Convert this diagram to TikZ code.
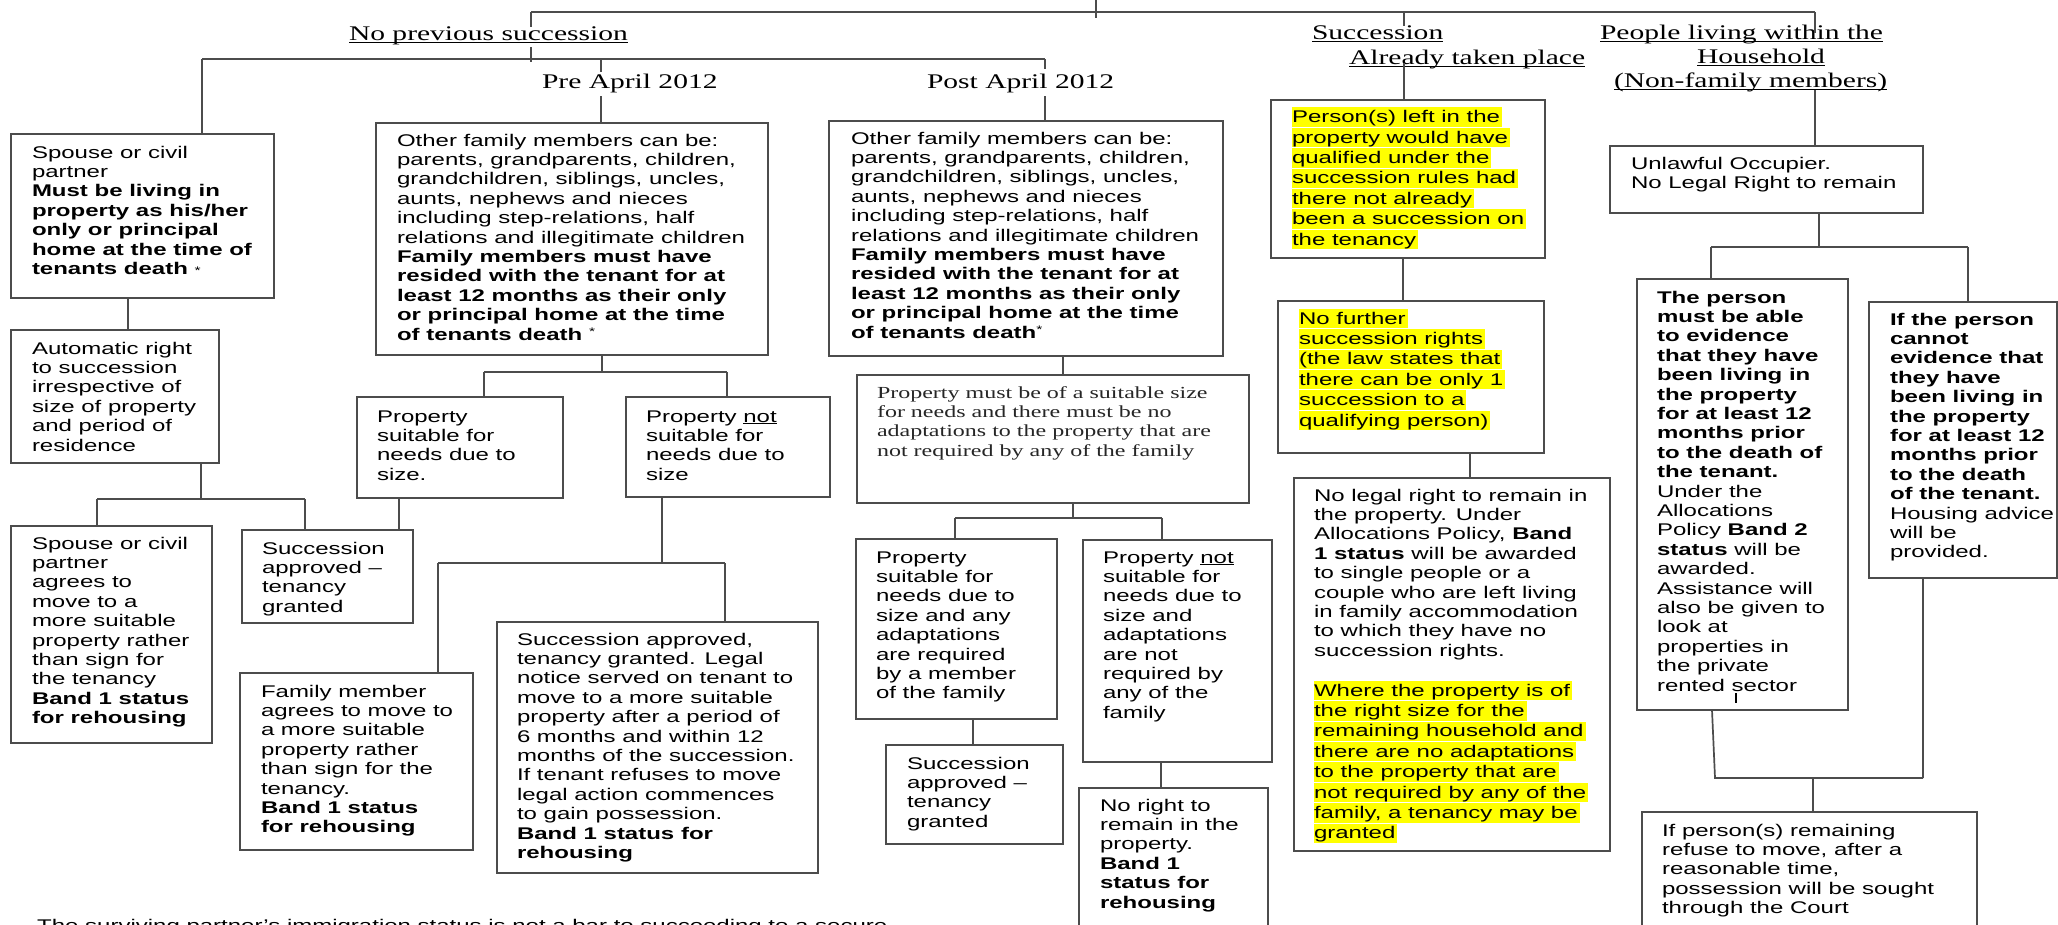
\documentclass[tikz,border=0pt]{standalone}
\usepackage{fontspec}
\setmainfont{Liberation Sans}[FakeStretch=1.42]
\newfontfamily\tnr{Liberation Serif}[FakeStretch=1.42]
\usetikzlibrary{calc}
\definecolor{lnc}{HTML}{4C4C4C}
\definecolor{hly}{HTML}{FFFF00}
\newcommand\hs{\vrule width 0pt height 15.3pt depth 4.1pt}
\newcommand\hlt[1]{{\setlength{\fboxsep}{0pt}\colorbox{hly}{\hs#1\kern2pt}}}
\newcommand\bb[1]{{\bfseries #1}}
\newsavebox\ulbox
\newcommand\myul[2][3pt]{\sbox\ulbox{#2}\rlap{\rule[-#1]{\wd\ulbox}{1.2pt}}\usebox\ulbox}
\newcommand\bodyfont{\fontsize{16.9pt}{19.4pt}\selectfont}
\newcommand\headfont{\tnr\fontsize{20.8pt}{24pt}\selectfont}
\newcommand\smast{{\mdseries\fontsize{11pt}{11pt}\selectfont *}}
\tikzset{
  conn/.style={draw=lnc, line width=1.7pt},
  boxst/.style={draw=lnc, line width=1.7pt, inner sep=0pt, outer sep=0pt, anchor=north west},
  txt/.style={inner sep=0pt, outer sep=0pt, anchor=north west, align=left, font=\bodyfont, text=black},
  head/.style={inner sep=0pt, outer sep=0pt, anchor=base west, font=\headfont, text=black},
}
\newcommand\bx[5]{\node[boxst, minimum width={#4-#2}, minimum height={#5-#3}] (#1) at (#2,#3) {};}
\begin{document}
\begin{tikzpicture}[x=1pt,y=-1pt]
\useasboundingbox (0,0) rectangle (2058,924);
\fill[white] (0,0) rectangle (2058,924);
\clip (0,0) rectangle (2058,924);

% ---------- headings ----------
\node[head] (hNPS) at (349,40) {\myul{No previous succession}};
\node[head] (hPre) at (542,88) {Pre April 2012};
\node[head] (hPost) at (927,88) {Post April 2012};
\node[head] (hSucc) at (1312,39) {\myul{Succession}};
\node[head] (hAlr) at (1349,64) {\myul{Already taken place}};
\node[head] (hP1) at (1600,39) {\myul{People living within the}};
\node[head] (hP2) at (1697,63) {\myul{Household}};
\node[head] (hP3) at (1614,87) {\myul{(Non-family members)}};

% ---------- boxes ----------
\bx{sp1}{11}{134}{274}{298}
\bx{auto}{11}{330}{219}{463}
\bx{preOF}{376}{123}{768}{355}
\bx{postOF}{829}{121}{1223}{356}
\bx{preS}{357}{397}{563}{498}
\bx{preNS}{626}{397}{830}{497}
\bx{sp2}{11}{526}{212}{743}
\bx{preSA}{242}{530}{413}{623}
\bx{fam}{240}{673}{473}{850}
\bx{legal}{497}{622}{818}{873}
\bx{must}{857}{375}{1249}{503}
\bx{postS}{856}{539}{1057}{719}
\bx{postSA}{886}{745}{1063}{844}
\bx{postNS}{1083}{540}{1272}{762}
\bx{noright}{1079}{788}{1268}{940}
\bx{pers}{1271}{100}{1545}{258}
\bx{nofur}{1278}{301}{1544}{453}
\bx{nolegal}{1294}{478}{1610}{851}
\bx{unl}{1610}{146}{1923}{213}
\bx{tp}{1637}{279}{1848}{710}
\bx{ifc}{1869}{302}{2057}{578}
\bx{ifr}{1642}{812}{1977}{940}

% ---------- texts ----------
\node[txt] (sp1t) at (32,142.7) {\hs Spouse or civil\\ partner\\ \bb{Must be living in}\\ \bb{property as his/her}\\ \bb{only or principal}\\ \bb{home at the time of}\\ \bb{tenants death} \smast};
\node[txt] (autot) at (32,338.7) {\hs Automatic right\\ to succession\\ irrespective of\\ size of property\\ and period of\\ residence};
\node[txt] (preOFt) at (397,130.7) {\hs Other family members can be:\\ parents, grandparents, children,\\ grandchildren, siblings, uncles,\\ aunts, nephews and nieces\\ including step-relations, half\\ relations and illegitimate children\\ \bb{Family members must have}\\ \bb{resided with the tenant for at}\\ \bb{least 12 months as their only}\\ \bb{or principal home at the time}\\ \bb{of tenants death} \raisebox{5pt}{\smast}};
\node[txt] (postOFt) at (851,128.7) {\hs Other family members can be:\\ parents, grandparents, children,\\ grandchildren, siblings, uncles,\\ aunts, nephews and nieces\\ including step-relations, half\\ relations and illegitimate children\\ \bb{Family members must have}\\ \bb{resided with the tenant for at}\\ \bb{least 12 months as their only}\\ \bb{or principal home at the time}\\ \bb{of tenants death}\raisebox{5pt}{\smast}};
\node[txt] (preSt) at (377,406.7) {\hs Property\\ suitable for\\ needs due to\\ size.};
\node[txt] (preNSt) at (646,406.7) {\hs Property \myul[2pt]{not}\\ suitable for\\ needs due to\\ size};
\node[txt] (sp2t) at (32,533.7) {\hs Spouse or civil\\ partner\\ agrees to\\ move to a\\ more suitable\\ property rather\\ than sign for\\ the tenancy\\ \bb{Band 1 status}\\ \bb{for rehousing}};
\node[txt] (preSAt) at (262,538.7) {\hs Succession\\ approved --\\ tenancy\\ granted};
\node[txt] (famt) at (261,681.7) {\hs Family member\\ agrees to move to\\ a more suitable\\ property rather\\ than sign for the\\ tenancy.\\ \bb{Band 1 status}\\ \bb{for rehousing}};
\node[txt] (legalt) at (517,629.7) {\hs Succession approved,\\ tenancy granted. Legal\\ notice served on tenant to\\ move to a more suitable\\ property after a period of\\ 6 months and within 12\\ months of the succession.\\ If tenant refuses to move\\ legal action commences\\ to gain possession.\\ \bb{Band 1 status for}\\ \bb{rehousing}};
\node[txt, font=\tnr\bodyfont, text=black!85] (mustt) at (877,382.7) {\hs Property must be of a suitable size\\ for needs and there must be no\\ adaptations to the property that are\\ not required by any of the family};
\node[txt] (postSt) at (876,547.7) {\hs Property\\ suitable for\\ needs due to\\ size and any\\ adaptations\\ are required\\ by a member\\ of the family};
\node[txt] (postSAt) at (907,753.7) {\hs Succession\\ approved --\\ tenancy\\ granted};
\node[txt] (postNSt) at (1103,547.7) {\hs Property \myul[2pt]{not}\\ suitable for\\ needs due to\\ size and\\ adaptations\\ are not\\ required by\\ any of the\\ family};
\node[txt] (norightt) at (1100,795.7) {\hs No right to\\ remain in the\\ property.\\ \bb{Band 1}\\ \bb{status for}\\ \bb{rehousing}};
\node[txt] (perst) at (1292,107.4) {\hlt{Person(s) left in the}\\ \hlt{property would have}\\ \hlt{qualified under the}\\ \hlt{succession rules had}\\ \hlt{there not already}\\ \hlt{been a succession on}\\ \hlt{the tenancy}};
\node[txt] (nofurt) at (1299,308.7) {\hlt{No further}\\ \hlt{succession rights}\\ \hlt{(the law states that}\\ \hlt{there can be only 1}\\ \hlt{succession to a}\\ \hlt{qualifying person)}};
\node[txt] (nolegalt) at (1314,485.7) {\hs No legal right to remain in\\ the property. Under\\ Allocations Policy, \bb{Band}\\ \bb{1 status} will be awarded\\ to single people or a\\ couple who are left living\\ in family accommodation\\ to which they have no\\ succession rights.\\ \hs\\ \hlt{Where the property is of}\\ \hlt{the right size for the}\\ \hlt{remaining household and}\\ \hlt{there are no adaptations}\\ \hlt{to the property that are}\\ \hlt{not required by any of the}\\ \hlt{family, a tenancy may be}\\ \hlt{granted}};
\node[txt] (unlt) at (1631,153.7) {\hs Unlawful Occupier.\\ No Legal Right to remain};
\node[txt] (tpt) at (1657,287.7) {\hs\bb{The person}\\ \bb{must be able}\\ \bb{to evidence}\\ \bb{that they have}\\ \bb{been living in}\\ \bb{the property}\\ \bb{for at least 12}\\ \bb{months prior}\\ \bb{to the death of}\\ \bb{the tenant.}\\ Under the\\ Allocations\\ Policy \bb{Band 2}\\ \bb{status} will be\\ awarded.\\ Assistance will\\ also be given to\\ look at\\ properties in\\ the private\\ rented sector};
\node[txt] (ifct) at (1890,309.7) {\hs\bb{If the person}\\ \bb{cannot}\\ \bb{evidence that}\\ \bb{they have}\\ \bb{been living in}\\ \bb{the property}\\ \bb{for at least 12}\\ \bb{months prior}\\ \bb{to the death}\\ \bb{of the tenant.}\\ Housing advice\\ will be\\ provided.};
\node[txt] (ifrt) at (1662,820.7) {\hs If person(s) remaining\\ refuse to move, after a\\ reasonable time,\\ possession will be sought\\ through the Court};
\node[inner sep=0pt, anchor=base west, font=\bodyfont, text=black] (foot) at (37,931) {The surviving partner’s immigration status is not a bar to succeeding to a secure};
\draw[line width=2.4pt, black] (1736,693) -- (1736,703);

% ---------- connectors ----------
\coordinate (t0) at (1096,0);
\coordinate (tL) at (531,12);
\coordinate (tR) at (1815,12);
\coordinate (tS) at (1404,12);
\draw[conn] (t0) -- ($(t0 |- tL)+(0,6)$);
\draw[conn] (tL) -- (tR);
\draw[conn] (tL) -- ($(tL |- hNPS.north)+(0,1)$);
\draw[conn] (tS) -- ($(tS |- hSucc.north)+(0,1)$);
\draw[conn] (tR) -- ($(tR)+(0,21)$);

\coordinate (nL) at (202,59);
\coordinate (nR) at (1045,59);
\coordinate (nM) at (531,59);
\coordinate (nP) at (601,59);
\draw[conn] (nL) -- (nR);
\draw[conn] ($(nM |- hNPS.south)+(0,3)$) -- ($(nM)+(0,3)$);
\draw[conn] (nL) -- (nL |- sp1.north);
\draw[conn] (nP) -- ($(nP |- hPre.north)+(0,-2)$);
\draw[conn] ($(nP |- hPre.south)+(0,4)$) -- (nP |- preOF.north);
\draw[conn] (nR) -- ($(nR |- hPost.north)+(0,-5)$);
\draw[conn] ($(nR |- hPost.south)+(0,4)$) -- (nR |- postOF.north);

\coordinate (s1) at (128,0);
\draw[conn] (sp1.south -| s1) -- (auto.north -| s1);
\coordinate (sb) at (201,499);
\coordinate (sbL) at (97,499);
\coordinate (sbR) at (305,499);
\draw[conn] (auto.south -| sb) -- (sb);
\draw[conn] (sbL) -- (sbR);
\draw[conn] (sbL) -- (sbL |- sp2.north);
\draw[conn] (sbR) -- (sbR |- preSA.north);

\coordinate (pb) at (602,372);
\coordinate (pbL) at (484,372);
\coordinate (pbR) at (727,372);
\draw[conn] (preOF.south -| pb) -- (pb);
\draw[conn] (pbL) -- (pbR);
\draw[conn] (pbL) -- (pbL |- preS.north);
\draw[conn] (pbR) -- (pbR |- preNS.north);
\coordinate (ps) at (399,0);
\draw[conn] (preS.south -| ps) -- (preSA.north -| ps);
\coordinate (qb) at (662,563);
\coordinate (qbL) at (438,563);
\coordinate (qbR) at (725,563);
\draw[conn] (preNS.south -| qb) -- (qb);
\draw[conn] (qbL) -- (qbR);
\draw[conn] (qbL) -- (qbL |- fam.north);
\draw[conn] (qbR) -- (qbR |- legal.north);

\coordinate (m0) at (1063,0);
\draw[conn] (postOF.south -| m0) -- (must.north -| m0);
\coordinate (mb) at (1073,518);
\coordinate (mbL) at (955,518);
\coordinate (mbR) at (1162,518);
\draw[conn] (must.south -| mb) -- (mb);
\draw[conn] (mbL) -- (mbR);
\draw[conn] (mbL) -- (mbL |- postS.north);
\draw[conn] (mbR) -- (mbR |- postNS.north);
\coordinate (m1) at (973,0);
\draw[conn] (postS.south -| m1) -- (postSA.north -| m1);
\coordinate (m2) at (1161,0);
\draw[conn] (postNS.south -| m2) -- (noright.north -| m2);

\coordinate (a0) at (1404,63);
\draw[conn] (a0) -- (a0 |- pers.north);
\coordinate (a1) at (1403,0);
\draw[conn] (pers.south -| a1) -- (nofur.north -| a1);
\coordinate (a2) at (1470,0);
\draw[conn] (nofur.south -| a2) -- (nolegal.north -| a2);

\coordinate (u0) at (1815,90);
\draw[conn] (u0) -- (u0 |- unl.north);
\coordinate (ub) at (1819,247);
\coordinate (ubL) at (1711,247);
\coordinate (ubR) at (1968,247);
\draw[conn] (unl.south -| ub) -- (ub);
\draw[conn] (ubL) -- (ubR);
\draw[conn] (ubL) -- (ubL |- tp.north);
\draw[conn] (ubR) -- (ubR |- ifc.north);
\coordinate (v0) at (1712,0);
\coordinate (vb) at (1813,778);
\coordinate (vbL) at (1715,778);
\coordinate (vbR) at (1923,778);
\draw[conn] (tp.south -| v0) -- (vbL) -- (vbR);
\draw[conn] (ifc.south -| vbR) -- (vbR);
\draw[conn] (vb) -- (vb |- ifr.north);
\end{tikzpicture}
\end{document}
